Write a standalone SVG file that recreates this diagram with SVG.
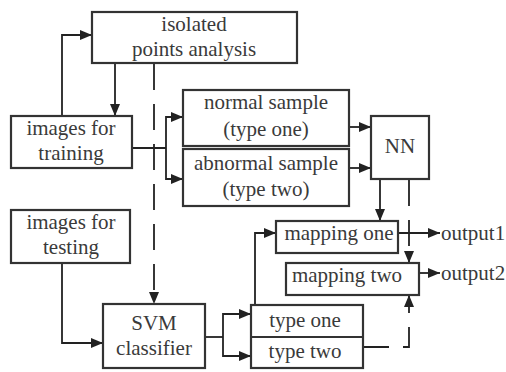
<svg xmlns="http://www.w3.org/2000/svg" width="506" height="372" viewBox="0 0 506 372">
<defs>
<marker id="ah" markerUnits="userSpaceOnUse" markerWidth="12" markerHeight="10" refX="12" refY="5" orient="auto">
<path d="M0,0 L12,5 L0,10 Z" fill="#222"/>
</marker>
<style>
.box{fill:#fff;stroke:#333;stroke-width:2.2}
.t{font-family:"Liberation Serif","Times New Roman",serif;font-size:21px;fill:#3a3a3a;text-anchor:middle}
.tl{font-family:"Liberation Serif","Times New Roman",serif;font-size:21px;fill:#3a3a3a}
.c{fill:none;stroke:#222;stroke-width:1.8}
.d{fill:none;stroke:#222;stroke-width:1.8;stroke-dasharray:26,14}
.a{marker-end:url(#ah)}
</style>
</defs>
<rect width="506" height="372" fill="#fff"/>
<g id="connectors">
<path class="c a" d="M62,116 V35 H92"/>
<path class="c a" d="M115,63 V116"/>
<path class="d a" d="M154,64 V304"/>
<path class="c" d="M132,148 H166"/>
<path class="c a" d="M166,148 V117 H183"/>
<path class="c a" d="M166,148 V179 H183"/>
<path class="c a" d="M349,127 H371"/>
<path class="c a" d="M349,168 H371"/>
<path class="c a" d="M380,179 V221"/>
<path class="d a" d="M409,180 V263"/>
<path class="c a" d="M398,233 H440"/>
<path class="c a" d="M419,273 H440"/>
<path class="c a" d="M62,263 V343 H103"/>
<path class="c" d="M205,337 H223"/>
<path class="c a" d="M223,337 V314 H251"/>
<path class="c a" d="M223,337 V356 H251"/>
<path class="c a" d="M255,305 V233 H276"/>
<path class="d a" d="M363,347 H409 V295"/>
</g>
<g id="isolated">
<rect class="box" x="92" y="12" width="205" height="51"/>
<text class="t" x="194" y="31">isolated</text>
<text class="t" x="194" y="56">points analysis</text>
</g>
<g id="training">
<rect class="box" x="11" y="116" width="121" height="52"/>
<text class="t" x="71" y="135">images for</text>
<text class="t" x="71" y="160">training</text>
</g>
<g id="normal">
<rect class="box" x="183" y="90" width="166" height="56"/>
<text class="t" x="266" y="109">normal sample</text>
<text class="t" x="266" y="136">(type one)</text>
</g>
<g id="abnormal">
<rect class="box" x="183" y="149" width="166" height="57"/>
<text class="t" x="266" y="170">abnormal sample</text>
<text class="t" x="266" y="196">(type two)</text>
</g>
<g id="nn">
<rect class="box" x="371" y="116" width="58" height="63"/>
<text class="t" x="400" y="153">NN</text>
</g>
<g id="testing">
<rect class="box" x="11" y="210" width="119" height="53"/>
<text class="t" x="71" y="229">images for</text>
<text class="t" x="71" y="254">testing</text>
</g>
<g id="svm">
<rect class="box" x="103" y="304" width="102" height="64"/>
<text class="t" x="154" y="330">SVM</text>
<text class="t" x="154" y="355">classifier</text>
</g>
<g id="types">
<rect class="box" x="251" y="305" width="112" height="63"/>
<line x1="251" y1="337" x2="363" y2="337" stroke="#333" stroke-width="2.2"/>
<text class="t" x="305" y="327">type one</text>
<text class="t" x="305" y="358">type two</text>
</g>
<g id="mapping1">
<rect class="box" x="276" y="221" width="122" height="32"/>
<text class="t" x="339" y="240">mapping one</text>
</g>
<g id="mapping2">
<rect class="box" x="286" y="263" width="133" height="32"/>
<text class="t" x="347" y="282">mapping two</text>
</g>
<g id="outputs">
<text class="tl" x="441" y="240">output1</text>
<text class="tl" x="441" y="280">output2</text>
</g>
</svg>
